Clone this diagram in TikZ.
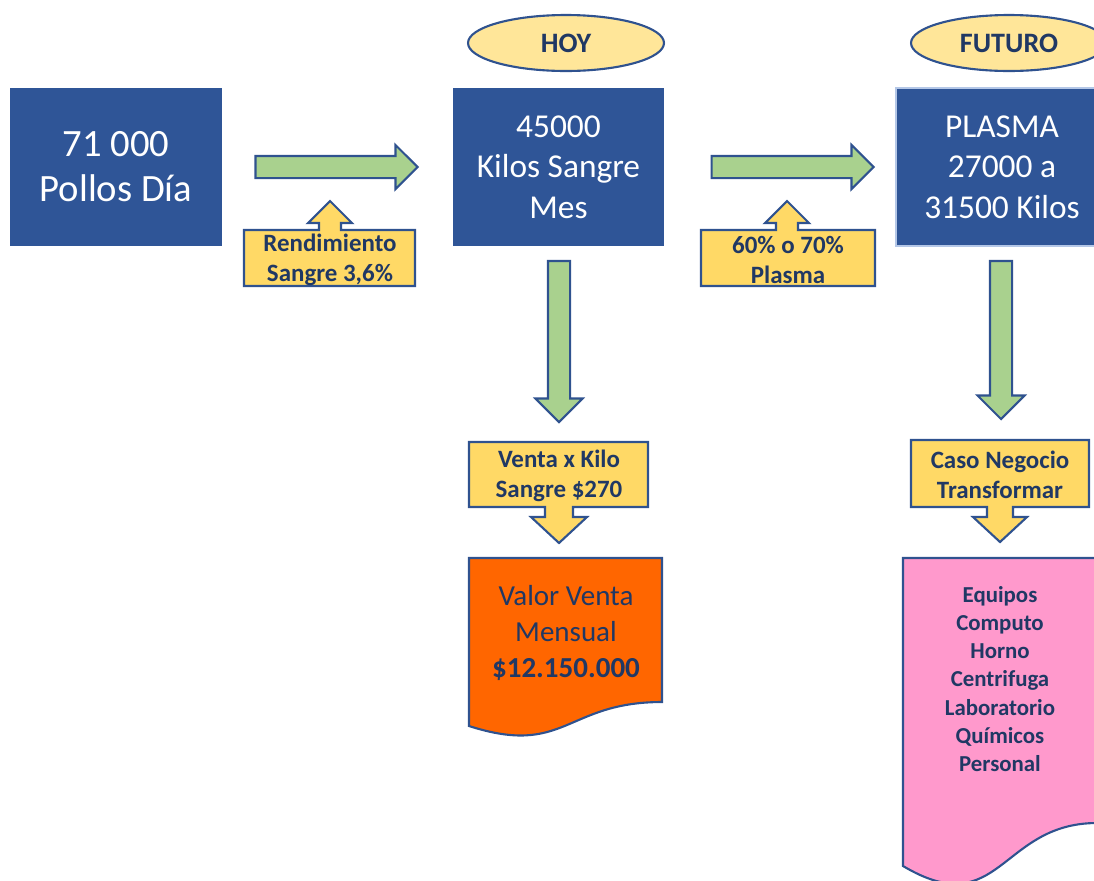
\documentclass[tikz,border=0pt]{standalone}
\usepackage{fontspec}
\setmainfont{Carlito}
\usetikzlibrary{shapes.geometric,shapes.arrows,positioning}

\definecolor{boxblue}{HTML}{2F5597}
\definecolor{edgeblue}{HTML}{2F528F}
\definecolor{navy}{HTML}{203864}
\definecolor{arrowgreen}{HTML}{A9D18E}
\definecolor{calloutyellow}{HTML}{FFD966}
\definecolor{tagyellow}{HTML}{FFE699}
\definecolor{docorange}{HTML}{FF6600}
\definecolor{docpink}{HTML}{FF99CC}
\definecolor{paleblue}{HTML}{B4C7E7}

\tikzset{
  bluebox/.style={fill=boxblue, text=white, align=center, minimum width=4.24cm, minimum height=3.16cm, inner sep=0pt},
  tag/.style={ellipse, draw=edgeblue, line width=1.2pt, fill=tagyellow, text=navy, minimum width=3.92cm, minimum height=1.12cm, font=\bfseries\fontsize{16}{19}\selectfont},
  flowarrow/.style={single arrow, draw=edgeblue, line width=1.2pt, fill=arrowgreen, inner sep=0.2cm, single arrow head extend=0.22cm, minimum height=#1},
  flowarrow/.default=3.2cm,
  callout/.style={draw=edgeblue, line width=1.2pt, fill=calloutyellow},
  callouttext/.style={text=navy, align=center, font=\bfseries\fontsize{14.2}{17}\selectfont},
  docshape/.style={draw=edgeblue, line width=1.2pt},
}

\begin{document}
\begin{tikzpicture}[x=0.02cm, y=-0.02cm]
    \useasboundingbox (0,0) rectangle (1094,880);
    \clip (0,0) rectangle (1094,880);

    % Main blocks
    \node[bluebox, font=\fontsize{22}{25.6}\selectfont] (pollos) at (116,167) {71 000\\Pollos Día};
    \node[bluebox, font=\fontsize{19}{23}\selectfont] (sangre) at (558.5,167) {45000\\Kilos Sangre\\Mes};
    \node[bluebox, draw=paleblue, line width=1.5pt, font=\fontsize{19}{23}\selectfont] (plasma) at (1002,167) {PLASMA\\27000 a\\31500 Kilos};

    % Time tags
    \node[tag] (hoy) at (566,43) {HOY};
    \node[tag] (futuro) at (1009,43) {FUTURO};

    % Green flow arrows
    \node[flowarrow=3.24cm] (flujoA) at (331,167) {};
    \node[flowarrow=3.24cm] (flujoB) at (787,167) {};
    \node[flowarrow=3.22cm, single arrow head extend=0.25cm, rotate=-90] (flujoC) at (559,336) {};
    \node[flowarrow=3.16cm, single arrow head extend=0.25cm, rotate=-90] (flujoD) at (1001,334.5) {};

    % Up callouts
    \draw[callout] (244,286) -- (244,230) -- (319,230) -- (319,223) -- (308,223) -- (330,201)
        -- (352,223) -- (341,223) -- (341,230) -- (415,230) -- (415,286) -- cycle;
    \node[callouttext] (rendimiento) at (330,260) {Rendimiento\\Sangre 3,6\%};
    \draw[callout] (701,286) -- (701,230) -- (776,230) -- (776,223) -- (765,223) -- (787,201)
        -- (809,223) -- (798,223) -- (798,230) -- (875,230) -- (875,286) -- cycle;
    \node[callouttext] (porcentaje) at (788,260) {60\% o 70\%\\Plasma};

    % Down callouts
    \draw[callout] (469,442) -- (648,442) -- (648,507) -- (573,507) -- (573,517) -- (587,517)
        -- (559,543) -- (531,517) -- (545,517) -- (545,507) -- (469,507) -- cycle;
    \node[callouttext] (venta) at (559,476) {Venta x Kilo\\Sangre \$270};
    \draw[callout] (911,440) -- (1089,440) -- (1089,507) -- (1013,507) -- (1013,517) -- (1027,517)
        -- (1000,542) -- (973,517) -- (987,517) -- (987,507) -- (911,507) -- cycle;
    \node[callouttext] (caso) at (1000,475) {Caso Negocio\\Transformar};

    % Documents
    \draw[docshape, fill=docorange] (469,558) -- (662,558) -- (662,702)
        .. controls (565.5,702) and (565.5,757) .. (469,726) -- cycle;
    \node[text=navy, align=center, font=\fontsize{16.5}{20.5}\selectfont] (valor) at (566,633)
        {Valor Venta\\Mensual\\\textbf{\$12.150.000}};
    \draw[docshape, fill=docpink] (903,558) -- (1097,558) -- (1097,823)
        .. controls (1000,823) and (1000,923.5) .. (903,866) -- cycle;
    \node[text=navy, align=center, font=\bfseries\fontsize{13}{16}\selectfont] (inversion) at (1000,679)
        {Equipos\\Computo\\Horno\\Centrifuga\\Laboratorio\\Químicos\\Personal};
\end{tikzpicture}
\end{document}
